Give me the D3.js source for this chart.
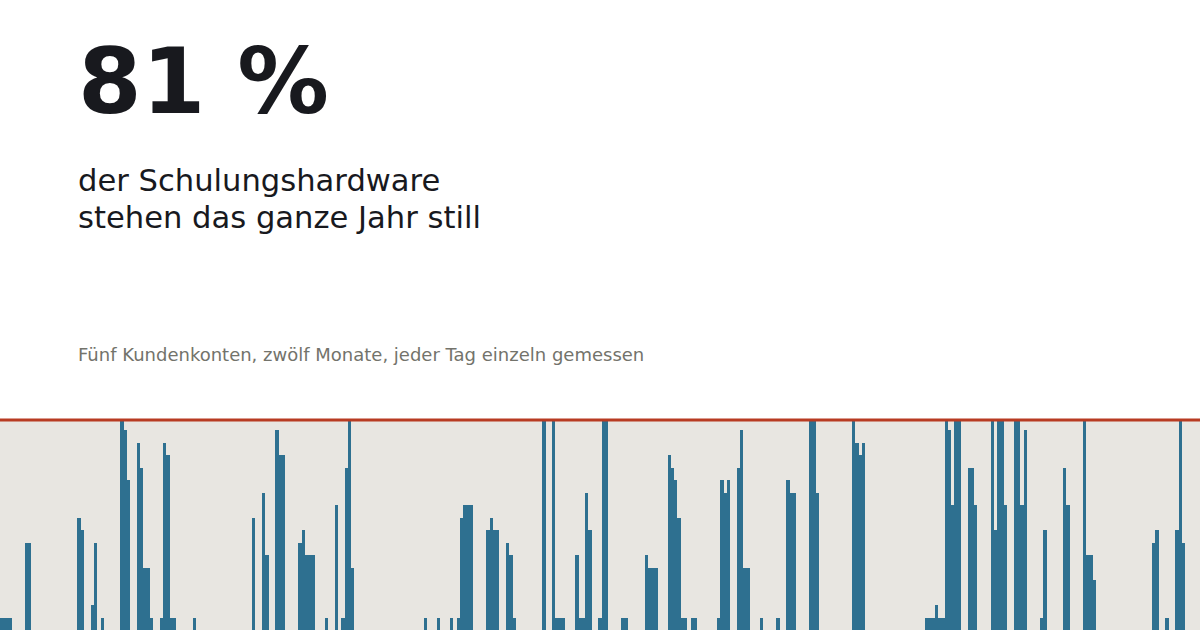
<!DOCTYPE html>
<html>
<head>
<meta charset="utf-8">
<script src="https://cdn.jsdelivr.net/npm/d3@7"></script>
<style>
  body { margin: 0; background: #ffffff; }
  svg { display: block; font-family: 'DejaVu Sans', sans-serif; }
</style>
</head>
<body>
<div id="chart"></div>
<script>
// Headline texts
const headline = '81 %';
const subLines = ['der Schulungshardware', 'stehen das ganze Jahr still'];
const caption = 'Fünf Kundenkonten, zwölf Monate, jeder Tag einzeln gemessen';

// Days of the year (0 = 1 Jan) with any usage, and the usage on that day
const activeDays = [
  0, 1, 2, 3, 8, 9, 24, 25, 28, 29, 31, 37, 38, 39, 42, 43, 44, 45, 46,
  49, 50, 51, 52, 53, 59, 77, 80, 81, 84, 85, 86, 91, 92, 93, 94, 95, 99,
  102, 104, 105, 106, 107, 129, 133, 137, 139, 140, 141, 142, 143,
  148, 149, 150, 151, 154, 155, 156, 165, 168, 169, 170, 171,
  175, 176, 177, 178, 179, 182, 183, 184, 189, 190, 196, 197, 198, 199,
  203, 204, 205, 206, 207, 208, 210, 211, 218, 219, 220, 221,
  224, 225, 226, 227, 231, 236, 239, 240, 241, 246, 247, 248,
  259, 260, 261, 262, 281, 282, 283, 284, 285, 286,
  287, 288, 289, 290, 291, 294, 295, 296, 301, 302, 303, 304, 305,
  308, 309, 310, 311, 316, 317, 323, 324, 329, 330, 331, 332,
  350, 351, 354, 357, 358, 359,
];
const activeLoads = [
  1, 1, 1, 1, 7, 7, 9, 8, 2, 7, 1, 17, 16, 12, 15, 13, 5, 5, 1,
  1, 15, 14, 1, 1, 1, 9, 11, 6, 16, 14, 14, 7, 8, 6, 6, 6, 1,
  10, 1, 13, 17, 5, 1, 1, 1, 1, 9, 10, 10, 10,
  8, 9, 8, 8, 7, 6, 1, 17, 17, 1, 1, 1,
  6, 1, 1, 11, 8, 1, 17, 17, 1, 1, 6, 5, 5, 5,
  14, 13, 12, 9, 1, 1, 1, 1, 1, 12, 11, 12,
  13, 16, 5, 5, 1, 1, 12, 11, 11, 17, 17, 11,
  17, 15, 14, 15, 1, 1, 1, 2, 1, 1,
  17, 16, 10, 17, 17, 13, 13, 10, 17, 8, 17, 17, 10,
  17, 17, 10, 16, 1, 8, 13, 10, 17, 6, 6, 4,
  7, 8, 1, 8, 17, 7,
];

const yearStart = new Date(Date.UTC(2023, 0, 1));
const yearEnd = new Date(Date.UTC(2023, 11, 31));

// Full series, one entry per day
const days = d3.utcDay.range(yearStart, d3.utcDay.offset(yearEnd, 1));
const loadByDay = new Map(activeDays.map((d, i) => [d, activeLoads[i]]));
const data = days.map((date, i) => ({ date, load: loadByDay.get(i) || 0 }));

const width = 1200;
const height = 630;
const chartTop = 420;

const svg = d3.select('#chart')
  .append('svg')
  .attr('width', width)
  .attr('height', height);

// Headline block
svg.append('text')
  .attr('x', 78)
  .attr('y', 113)
  .attr('font-size', 91.5)
  .attr('font-weight', 'bold')
  .attr('fill', '#18191e')
  .text(headline);

svg.append('g')
  .selectAll('text')
  .data(subLines)
  .join('text')
  .attr('x', 78)
  .attr('y', (d, i) => 191 + i * 37)
  .attr('font-size', 30.6)
  .attr('fill', '#18191e')
  .text((d) => d);

svg.append('text')
  .attr('x', 78)
  .attr('y', 361)
  .attr('font-size', 18)
  .attr('fill', '#73736b')
  .text(caption);

// Scales
const x = d3.scaleUtc()
  .domain([yearStart, yearEnd])
  .range([0, width]);
const barWidth = x(d3.utcDay.offset(yearStart, 1)) - x(yearStart);

const y = d3.scaleLinear()
  .domain([0, 16.8])
  .range([height, chartTop])
  .clamp(true);

// Chart background
svg.append('rect')
  .attr('x', 0)
  .attr('y', chartTop)
  .attr('width', width)
  .attr('height', height - chartTop)
  .attr('fill', '#e8e6e1');

// Bars
svg.append('g')
  .attr('shape-rendering', 'crispEdges')
  .selectAll('rect')
  .data(data.filter((d) => d.load > 0))
  .join('rect')
  .attr('x', (d) => x(d.date) - barWidth / 2)
  .attr('y', (d) => y(d.load))
  .attr('width', barWidth)
  .attr('height', (d) => y(0) - y(d.load))
  .attr('fill', '#2e7090');

// Top rule
svg.append('line')
  .attr('x1', 0)
  .attr('x2', width)
  .attr('y1', chartTop)
  .attr('y2', chartTop)
  .attr('stroke', '#b83b22')
  .attr('stroke-width', 3);
</script>
</body>
</html>
